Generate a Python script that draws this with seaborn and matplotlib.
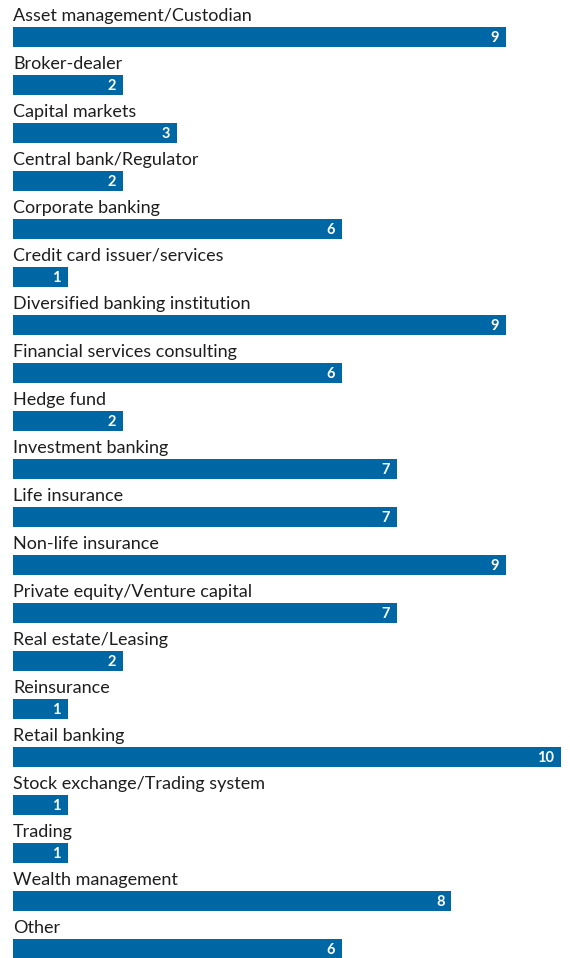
import matplotlib
matplotlib.use("Agg")
import matplotlib.pyplot as plt
import seaborn as sns
import pandas as pd

categories = [
    "Asset management/Custodian",
    "Broker-dealer",
    "Capital markets",
    "Central bank/Regulator",
    "Corporate banking",
    "Credit card issuer/services",
    "Diversified banking institution",
    "Financial services consulting",
    "Hedge fund",
    "Investment banking",
    "Life insurance",
    "Non-life insurance",
    "Private equity/Venture capital",
    "Real estate/Leasing",
    "Reinsurance",
    "Retail banking",
    "Stock exchange/Trading system",
    "Trading",
    "Wealth management",
    "Other",
]
values = [9, 2, 3, 2, 6, 1, 9, 6, 2, 7, 7, 9, 7, 2, 1, 10, 1, 1, 8, 6]

BAR_COLOR = "#0067A5"
W, H = 570, 958
ROW = 48.0  # pixels per row

sns.set_theme(style="white")
plt.rcParams["font.family"] = ["Lato", "DejaVu Sans"]

df = pd.DataFrame({"category": categories, "value": values})

fig = plt.figure(figsize=(W / 100, H / 100), dpi=100)
ax = fig.add_axes([13 / W, 0, 548 / W, 1])

sns.barplot(data=df, x="value", y="category", orient="h", color=BAR_COLOR,
            width=20 / ROW, saturation=1, linewidth=0, ax=ax)

ax.set_xlim(0, 10)
ax.set_ylim((H - 37) / ROW, -37 / ROW)
ax.axis("off")

for i, (cat, val) in enumerate(zip(categories, values)):
    ax.text(0, i - 16 / ROW, cat, ha="left", va="baseline",
            fontsize=13, color="#1e1e1e")
    ax.text(val - 7 / 54.8, i, str(val), ha="right", va="center_baseline",
            fontsize=10.5, fontweight="bold", color="white")

fig.savefig("out.png", dpi=100)
